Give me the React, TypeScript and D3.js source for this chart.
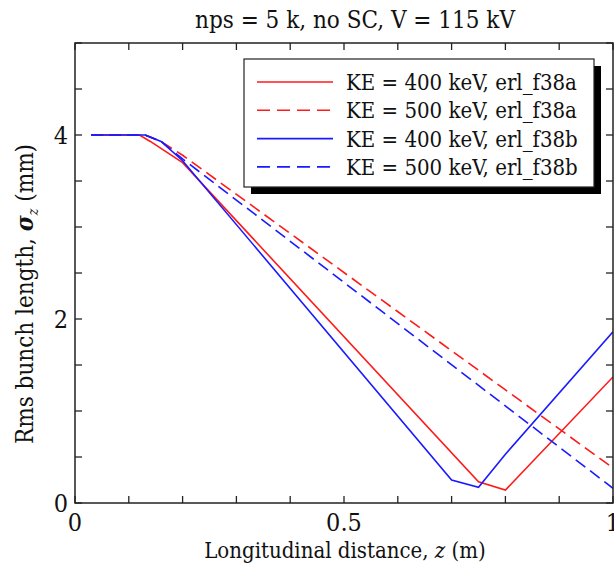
import React from "react";
import * as d3 from "d3";

const W = 614;
const H = 571;

const title = "nps = 5 k, no SC, V = 115 kV";
const xTickValues = [0, 0.5, 1];
const xTickLabels = ["0", "0.5", "1"];
const yTickValues = [0, 2, 4];
const yTickLabels = ["0", "2", "4"];

const seriesNames = [
  "KE = 400 keV, erl_f38a",
  "KE = 500 keV, erl_f38a",
  "KE = 400 keV, erl_f38b",
  "KE = 500 keV, erl_f38b",
];
const seriesColors = ["#ff1a1a", "#ff1a1a", "#1a1aff", "#1a1aff"];
const seriesDashed = [false, true, false, true];

const zRed400 = [0.03, 0.12, 0.14, 0.2, 0.75, 0.8, 1.0];
const sRed400 = [4, 4, 3.93, 3.7, 0.23, 0.14, 1.37];
const zRed500 = [0.03, 0.13, 0.16, 0.2, 1.0];
const sRed500 = [4, 4, 3.93, 3.78, 0.38];
const zBlue400 = [0.03, 0.13, 0.16, 0.2, 0.7, 0.75, 0.8, 1.0];
const sBlue400 = [4, 4, 3.93, 3.72, 0.25, 0.17, 0.53, 1.86];
const zBlue500 = [0.03, 0.13, 0.16, 0.2, 1.0];
const sBlue500 = [4, 4, 3.93, 3.74, 0.16];

const seriesZ = [zRed400, zRed500, zBlue400, zBlue500];
const seriesS = [sRed400, sRed500, sBlue400, sBlue500];

const FONT = "'DejaVu Serif Condensed', 'DejaVu Serif', serif";
const tStyle: React.CSSProperties = { fontFamily: FONT, fontStretch: "condensed" };

export default function App() {
  const left = 75, right = 613, top = 43, bottom = 503;
  const x = d3.scaleLinear().domain([0, 1]).range([left, right]);
  const y = d3.scaleLinear().domain([0, 5]).range([bottom, top]);
  const line = d3
    .line<[number, number]>()
    .x((d) => x(d[0]))
    .y((d) => y(d[1]));

  const xMinor = d3.range(0, 1.0001, 0.1);
  const yMinor = d3.range(0, 5.0001, 0.5);
  const tk = 7;

  const legX = 244, legY = 59, legW = 350, legH = 128, rowH = 28.3;

  return (
    <svg
      width={W}
      height={H}
      style={{ position: "absolute", left: 0, top: 0, background: "#fff", fontFamily: FONT }}
    >
      <rect x={0} y={0} width={W} height={H} fill="#fff" />
      <text x={355} y={28} fontSize={24} textAnchor="middle" fill="#111" style={tStyle}>
        {title}
      </text>

      <defs>
        <clipPath id="clip">
          <rect x={left} y={top} width={right - left} height={bottom - top} />
        </clipPath>
      </defs>
      <g clipPath="url(#clip)">
        {seriesZ.map((zs, i) => (
          <path
            key={i}
            d={line(zs.map((z, j) => [z, seriesS[i][j]] as [number, number])) || ""}
            fill="none"
            stroke={seriesColors[i]}
            strokeWidth={1.6}
            strokeDasharray={seriesDashed[i] ? "12,6" : undefined}
          />
        ))}
      </g>

      <rect x={left} y={top} width={right - left} height={bottom - top} fill="none" stroke="#222" strokeWidth={1.5} />
      {xMinor.map((v, i) => (
        <g key={"xt" + i}>
          <line x1={x(v)} x2={x(v)} y1={bottom} y2={bottom - tk} stroke="#222" strokeWidth={1.3} />
          <line x1={x(v)} x2={x(v)} y1={top} y2={top + tk} stroke="#222" strokeWidth={1.3} />
        </g>
      ))}
      {yMinor.map((v, i) => (
        <g key={"yt" + i}>
          <line x1={left} x2={left + tk} y1={y(v)} y2={y(v)} stroke="#222" strokeWidth={1.3} />
          <line x1={right} x2={right - tk} y1={y(v)} y2={y(v)} stroke="#222" strokeWidth={1.3} />
        </g>
      ))}
      {xTickValues.map((v, i) => (
        <text key={"xl" + i} x={x(v)} y={531} fontSize={25} textAnchor="middle" fill="#111" style={tStyle}>
          {xTickLabels[i]}
        </text>
      ))}
      {yTickValues.map((v, i) => (
        <text key={"yl" + i} x={68} y={y(v) + 9} fontSize={25} textAnchor="end" fill="#111" style={tStyle}>
          {yTickLabels[i]}
        </text>
      ))}

      <text x={345} y={558} fontSize={22} textAnchor="middle" fill="#111" style={tStyle}>
        Longitudinal distance, <tspan fontStyle="italic">z</tspan> (m)
      </text>
      <text
        transform={`translate(33,294) rotate(-90)`}
        fontSize={24}
        textAnchor="middle"
        fill="#111"
        style={tStyle}
      >
        Rms bunch length, <tspan fontStyle="italic" fontWeight="bold">σ</tspan>
        <tspan fontStyle="italic" fontSize={14} dy={5}>z</tspan>
        <tspan dy={-5}> (mm)</tspan>
      </text>

      <rect x={legX + 7} y={legY + 7} width={legW} height={legH} fill="#000" />
      <rect x={legX} y={legY} width={legW} height={legH} fill="#fff" stroke="#222" strokeWidth={1.2} />
      {seriesNames.map((name, i) => {
        const cy = legY + 23 + i * rowH;
        return (
          <g key={"lg" + i}>
            <line
              x1={257}
              x2={333}
              y1={cy}
              y2={cy}
              stroke={seriesColors[i]}
              strokeWidth={1.6}
              strokeDasharray={seriesDashed[i] ? "13,7" : undefined}
            />
            <text x={346} y={cy + 8} fontSize={22} fill="#111" style={tStyle}>
              {name}
            </text>
          </g>
        );
      })}
    </svg>
  );
}
